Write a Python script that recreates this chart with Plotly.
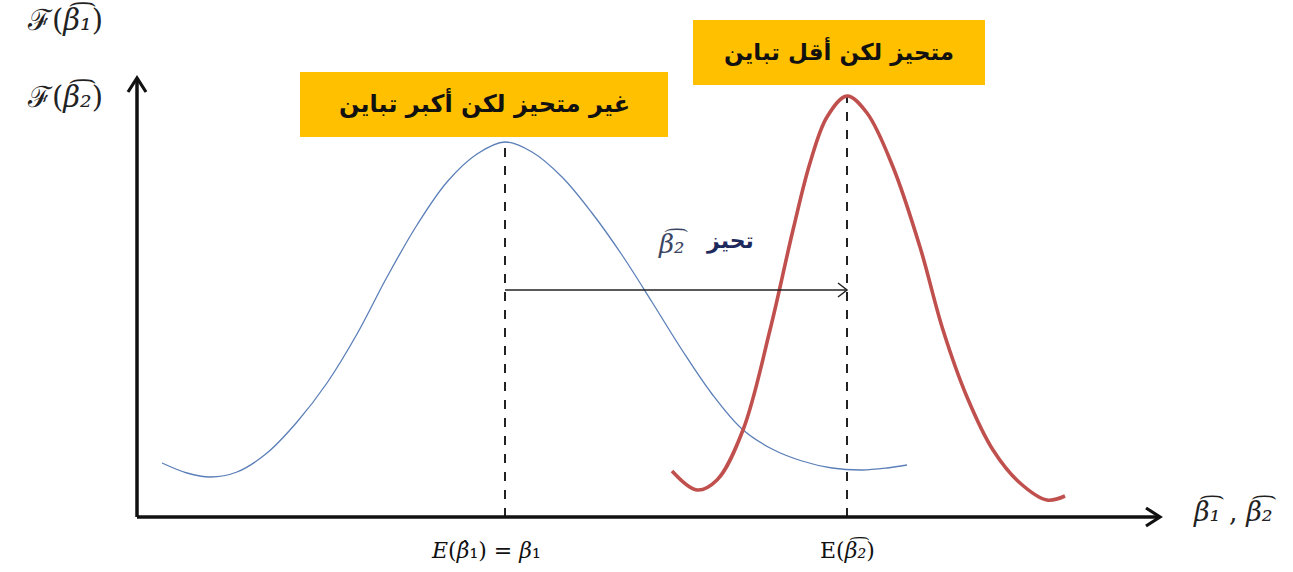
import plotly.graph_objects as go

# Sampled points of the two sampling distributions (x = estimate value, y = density)
blue_x = [0.25, 0.50, 0.73, 1.00, 1.30, 1.60, 1.90, 2.20, 2.50, 2.80, 3.10, 3.40, 3.68,
          3.95, 4.25, 4.55, 4.85, 5.15, 5.45, 5.75, 6.05, 6.35, 6.65, 6.95, 7.25, 7.50, 7.70]
blue_y = [0.54, 0.44, 0.40, 0.45, 0.64, 0.95, 1.34, 1.83, 2.40, 2.92, 3.35, 3.63, 3.75,
          3.65, 3.40, 3.04, 2.62, 2.15, 1.67, 1.23, 0.88, 0.68, 0.56, 0.49, 0.47, 0.49, 0.52]

red_x = [5.35, 5.60, 5.80, 6.06, 6.33, 6.56, 6.73, 6.90, 7.10,
         7.30, 7.56, 7.83, 8.06, 8.30, 8.56, 8.83, 9.10, 9.28]
red_y = [0.46, 0.27, 0.37, 0.87, 1.87, 2.87, 3.54, 4.00, 4.21,
         4.04, 3.50, 2.70, 1.87, 1.20, 0.67, 0.34, 0.17, 0.21]

# Expected values of the two estimators (peaks)
mean_1 = blue_x[blue_y.index(max(blue_y))]
peak_1 = max(blue_y)
mean_2 = red_x[red_y.index(max(red_y))]
peak_2 = max(red_y)

label_box_1 = "غير متحيز لكن أكبر تباين"
label_box_2 = "متحيز لكن أقل تباين"
label_bias = "تحيز"

X_END = 10.23   # end of horizontal axis arrow
Y_END = 4.39    # end of vertical axis arrow

fig = go.Figure()

fig.add_trace(go.Scatter(x=blue_x, y=blue_y, mode="lines",
                         line=dict(color="#5b7fb8", width=1.3, shape="spline", smoothing=1.0),
                         hoverinfo="skip", showlegend=False))
fig.add_trace(go.Scatter(x=red_x, y=red_y, mode="lines",
                         line=dict(color="#c0504d", width=3.6, shape="spline", smoothing=1.0),
                         hoverinfo="skip", showlegend=False))

shapes = []
# dashed guides from each peak down to the horizontal axis
for m, p in [(mean_1, peak_1), (mean_2, peak_2)]:
    shapes.append(dict(type="line", x0=m, x1=m, y0=0, y1=p,
                       line=dict(color="#222", width=2, dash="dash"), layer="below"))
# bias arrow between the two means
arrow_y = 2.27
shapes.append(dict(type="line", x0=mean_1, x1=mean_2, y0=arrow_y, y1=arrow_y,
                   line=dict(color="#222", width=1.5)))
shapes.append(dict(type="path",
                   path=f"M {mean_2-0.09},{arrow_y+0.07} L {mean_2},{arrow_y} L {mean_2-0.09},{arrow_y-0.07}",
                   line=dict(color="#222", width=1.5)))
# axes
shapes.append(dict(type="line", x0=0, x1=X_END, y0=0, y1=0, line=dict(color="#111", width=3.5)))
shapes.append(dict(type="line", x0=0, x1=0, y0=0, y1=Y_END, line=dict(color="#111", width=3.5)))
shapes.append(dict(type="path",
                   path=f"M {X_END-0.14},{0.09} L {X_END},0 L {X_END-0.14},{-0.09}",
                   line=dict(color="#111", width=3.2)))
shapes.append(dict(type="path",
                   path=f"M {-0.09},{Y_END-0.14} L 0,{Y_END} L {0.09},{Y_END-0.14}",
                   line=dict(color="#111", width=3.2)))
# yellow label boxes
shapes.append(dict(type="rect", x0=1.63, x1=5.31, y0=3.80, y1=4.45,
                   fillcolor="#ffc000", line=dict(width=0)))
shapes.append(dict(type="rect", x0=5.56, x1=8.48, y0=4.32, y1=4.97,
                   fillcolor="#ffc000", line=dict(width=0)))

serif = "DejaVu Serif"
ann = []
ann.append(dict(x=(1.63 + 5.31) / 2, y=4.14, text=f"<b>{label_box_1}</b>", showarrow=False,
                font=dict(family="DejaVu Sans", size=24, color="#111")))
ann.append(dict(x=(5.56 + 8.48) / 2, y=4.66, text=f"<b>{label_box_2}</b>", showarrow=False,
                font=dict(family="DejaVu Sans", size=23, color="#111")))
ann.append(dict(x=5.93, y=2.76, text=f"<b>{label_bias}</b>", showarrow=False,
                font=dict(family="DejaVu Sans", size=22, color="#1f2a5c")))
ann.append(dict(x=5.36, y=2.74, text="<i>β͡₂</i>", showarrow=False,
                font=dict(family=serif, size=26, color="#3a4663")))
ann.append(dict(x=mean_1 - 0.19, y=-0.33, text="<i>E</i>(<i>β̂</i>₁) = <i>β</i>₁", showarrow=False,
                font=dict(family=serif, size=22, color="#111")))
ann.append(dict(x=mean_2, y=-0.32, text="E(<i>β͡₂</i>)", showarrow=False,
                font=dict(family=serif, size=22, color="#111")))
ann.append(dict(x=10.98, y=0.06, text="<i>β͡₁</i> , <i>β͡₂</i>", showarrow=False,
                font=dict(family=serif, size=27, color="#222")))
ann.append(dict(x=-0.72, y=4.98, text="ℱ(<i>β͡₁</i>)", showarrow=False,
                font=dict(family=serif, size=29, color="#222")))
ann.append(dict(x=-0.72, y=4.21, text="ℱ(<i>β͡₂</i>)", showarrow=False,
                font=dict(family=serif, size=29, color="#222")))

fig.update_layout(
    width=1293, height=572,
    margin=dict(l=0, r=0, t=0, b=0),
    paper_bgcolor="white", plot_bgcolor="white",
    xaxis=dict(range=[-1.37, 11.56], visible=False, fixedrange=True),
    yaxis=dict(range=[-0.55, 5.17], visible=False, fixedrange=True),
    shapes=shapes, annotations=ann, showlegend=False,
)

fig.write_html("out.html")
